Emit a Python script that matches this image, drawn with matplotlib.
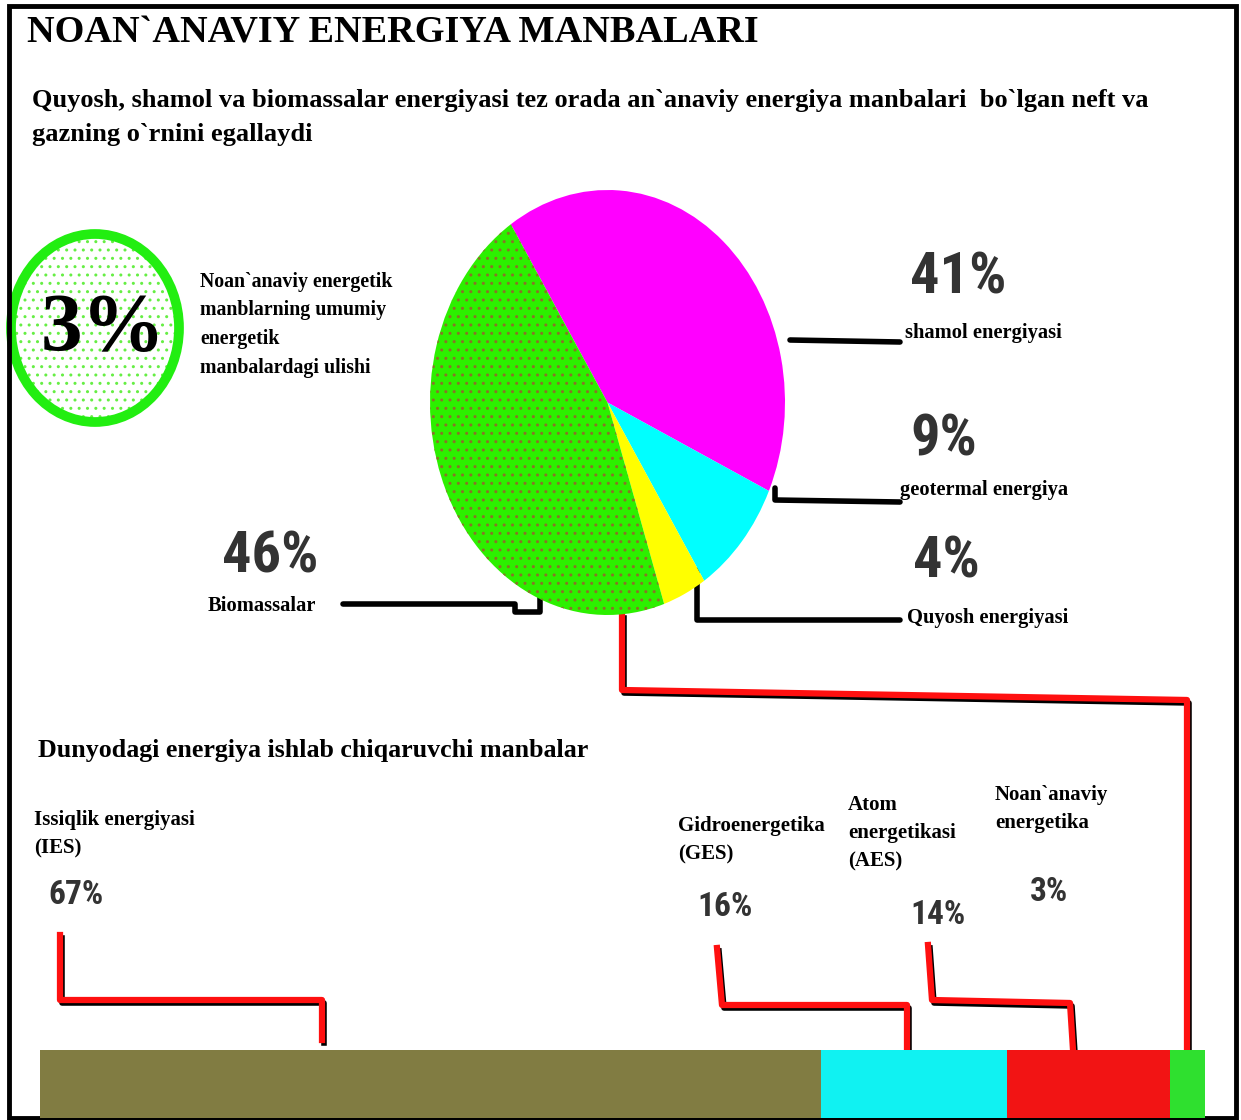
import numpy as np
import matplotlib
matplotlib.use("Agg")
import matplotlib.pyplot as plt
from matplotlib.patches import Ellipse, Rectangle

# ---------------- data ----------------
title = "NOAN`ANAVIY ENERGIYA MANBALARI"
subtitle = ["Quyosh, shamol va biomassalar energiyasi tez orada an`anaviy energiya manbalari  bo`lgan neft va",
            "gazning o`rnini egallaydi"]
share_label = "3%"
share_text = ["Noan`anaviy energetik", "manblarning umumiy", "energetik", "manbalardagi ulishi"]

pie_labels = ["shamol energiyasi", "geotermal energiya", "Quyosh energiyasi", "Biomassalar"]
pie_values = [41, 9, 4, 46]
pie_colors = ["#FF00FF", "#00FFFF", "#FFFF00", "#2CF000"]

bar_title = "Dunyodagi energiya ishlab chiqaruvchi manbalar"
bar_labels = ["Issiqlik energiyasi\n(IES)", "Gidroenergetika\n(GES)", "Atom\nenergetikasi\n(AES)",
              "Noan`anaviy\nenergetika"]
bar_values = [67, 16, 14, 3]
bar_colors = ["#817C42", "#10F2F2", "#F21414", "#2FE02F"]

# ---------------- figure ----------------
W, H = 1241, 1120
fig = plt.figure(figsize=(W / 100, H / 100), dpi=100)
fig.patch.set_facecolor("white")
ax = fig.add_axes([0, 0, 1, 1])
ax.set_xlim(0, W)
ax.set_ylim(H, 0)
ax.axis("off")

serif = "Liberation Serif"
num_kw = dict(family=["Roboto Condensed", "Roboto", "DejaVu Sans"], weight="bold", color="#333333")

# frame
ax.add_patch(Rectangle((9, 6), 1227, 1112, fill=False, lw=3.5, ec="black", zorder=10))

# title & subtitle
ax.text(27, 33, title, family=serif, weight="bold", fontsize=27.5, va="center", ha="left")
ax.text(32, 100, subtitle[0], family=serif, weight="bold", fontsize=19, va="center", ha="left")
ax.text(32, 135, subtitle[1], family=serif, weight="bold", fontsize=19, va="center", ha="left")

# green blob with 3%
ax.add_patch(Ellipse((95, 328), 160, 182, fc="white", ec="#66EE44", lw=0, hatch="..", zorder=2))
ax.add_patch(Ellipse((95, 328), 168, 188, fill=False, ec="#22EE11", lw=7, zorder=3))
ax.text(103, 330, share_label, family=serif, weight="bold", fontsize=60, va="center", ha="center", zorder=4)
for i, line in enumerate(share_text):
    ax.text(200, 282 + 28.5 * i, line, family=serif, weight="bold", fontsize=14.3, va="center", ha="left")

# ---------------- pie ----------------
pl, pr, pt, pb = 430, 785, 190, 615
pax = fig.add_axes([pl / W, 1 - pb / H, (pr - pl) / W, (pb - pt) / H])
wedges, _ = pax.pie(pie_values, colors=pie_colors, startangle=123, counterclock=False,
                    wedgeprops=dict(lw=0))
wedges[3].set_hatch("..")
wedges[3].set_edgecolor("#8A7328")
wedges[3].set_linewidth(0)
pax.set_aspect("auto")
pax.set_xlim(-1, 1)
pax.set_ylim(-1, 1)
pax.axis("off")

# pie connectors (black)
blk = dict(color="black", lw=4, solid_capstyle="round", zorder=5)
ax.plot([790, 900], [340, 342], **blk)
ax.plot([775, 775, 900], [488, 500, 502], **blk)
ax.plot([697, 697, 900], [570, 620, 620], **blk)
ax.plot([343, 515, 515, 540, 540], [604, 604, 612, 612, 590], **blk)

# pie labels
pct_pos = [(910, 278), (910, 440), (913, 562), (222, 557)]
lab_pos = [(905, 333), (900, 490), (907, 618), (208, 606)]
for v, (px, py), lab, (lx, ly) in zip(pie_values, pct_pos, pie_labels, lab_pos):
    ax.text(px, py, f"{v}%", fontsize=42, va="center", ha="left", **num_kw)
    ax.text(lx, ly, lab, family=serif, weight="bold", fontsize=14.8, va="center", ha="left")

# ---------------- bottom bar ----------------
ax.text(38, 750, bar_title, family=serif, weight="bold", fontsize=18.7, va="center", ha="left")

bx0, bx1, by0, by1 = 40, 1205, 1050, 1118
bax = fig.add_axes([bx0 / W, 1 - by1 / H, (bx1 - bx0) / W, (by1 - by0) / H])
left = 0
for v, c in zip(bar_values, bar_colors):
    bax.barh(0, v, left=left, height=1, color=c, lw=0)
    left += v
bax.set_xlim(0, sum(bar_values))
bax.set_ylim(-0.5, 0.5)
bax.axis("off")

lab_xy = [(34, 820), (678, 826), (848, 805), (995, 795)]
pct_xy = [(48, 895), (697, 907), (910, 915), (1030, 892)]
for lab, (lx, ly), v, (px, py) in zip(bar_labels, lab_xy, bar_values, pct_xy):
    for j, line in enumerate(lab.split("\n")):
        ax.text(lx, ly + 28 * j, line, family=serif, weight="bold", fontsize=15, va="center", ha="left")
    ax.text(px, py, f"{v}%", fontsize=24, va="center", ha="left", **num_kw)

# red connectors with black shadow
connectors = [
    ([60, 60, 322, 322], [935, 1000, 1000, 1040]),
    ([717, 722, 907, 907], [948, 1005, 1005, 1048]),
    ([928, 932, 1070, 1073], [945, 1000, 1003, 1050]),
    ([622, 622, 1187, 1187], [615, 690, 700, 1050]),
]
for xs, ys in connectors:
    ax.plot(np.array(xs) + 2, np.array(ys) + 3, color="black", lw=4, zorder=5)
    ax.plot(xs, ys, color="#FF1010", lw=4.5, zorder=6)

fig.savefig("out.png", dpi=100, facecolor="white")
